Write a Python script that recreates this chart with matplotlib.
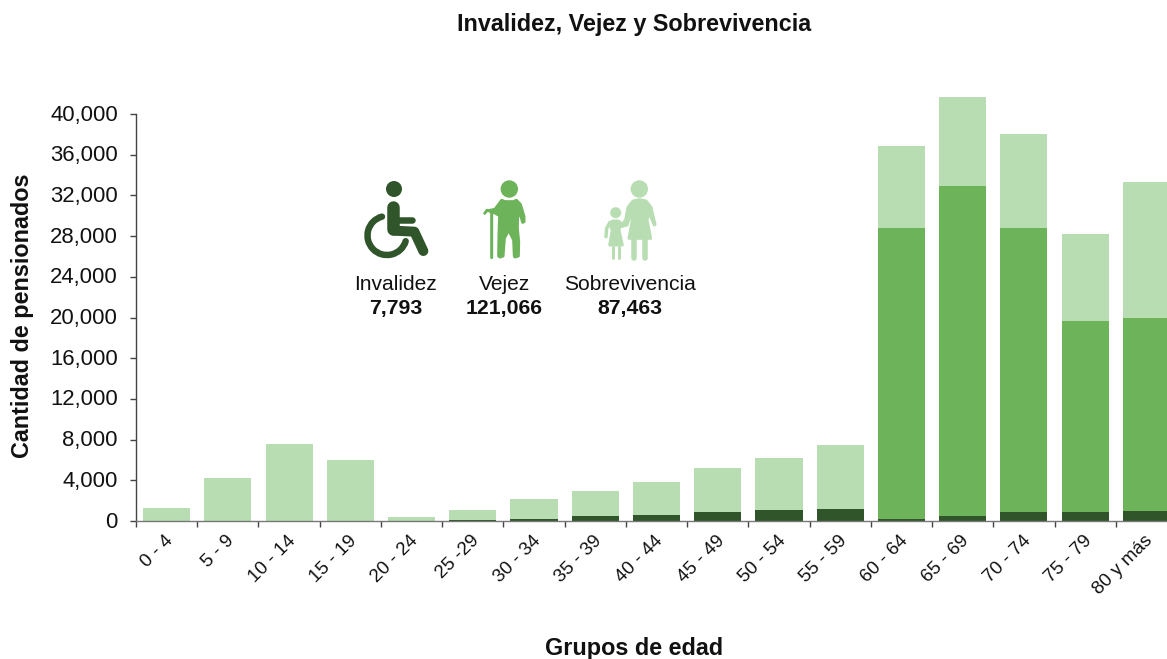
import numpy as np
import matplotlib
matplotlib.use('Agg')
import matplotlib.pyplot as plt
from matplotlib.path import Path
from matplotlib.patches import PathPatch, Circle, Polygon
from matplotlib.transforms import Affine2D, ScaledTranslation

plt.rcParams['font.family'] = ['Liberation Sans', 'DejaVu Sans']

W, H = 1167, 659
DARK = '#30552a'
MID = '#6db35a'
LIGHT = '#b9ddb3'

grupos = ['0 - 4', '5 - 9', '10 - 14', '15 - 19', '20 - 24', '25 -29', '30 - 34', '35 - 39', '40 - 44',
          '45 - 49', '50 - 54', '55 - 59', '60 - 64', '65 - 69', '70 - 74', '75 - 79', '80 y más']
invalidez = [0, 0, 0, 0, 0, 100, 200, 490, 590, 850, 1080, 1210, 200, 490, 850, 850, 980]
vejez = [0, 0, 0, 0, 0, 0, 0, 0, 0, 0, 0, 0, 28600, 32460, 27950, 18840, 19000]
sobrevivencia = [1250, 4225, 7600, 6000, 390, 1010, 1930, 2490, 3270, 4390, 5140, 6260, 8050, 8720, 9260, 8510, 13340]
y_ticks = [0, 4000, 8000, 12000, 16000, 20000, 24000, 28000, 32000, 36000, 40000]
totales = [('Invalidez', '7,793', 396), ('Vejez', '121,066', 504.5), ('Sobrevivencia', '87,463', 630)]

# everything for the icons is given in image pixels, origin top left
px = Affine2D().scale(1/W, -1/H).translate(0, 1)


def add_circle(fig, x, y, r, color):
    fig.add_artist(Circle((x, y), r, color=color, lw=0, transform=px + fig.transFigure))


def add_stroke(fig, pts, width, color, x0=0, y0=0, s=1):
    pts = [(x0 + p[0]/s, y0 + p[1]/s) for p in pts]
    fig.add_artist(PathPatch(Path(pts), fill=False, ec=color, lw=width*0.72, capstyle='round',
                             joinstyle='round', transform=px + fig.transFigure))


def add_shape(fig, pts, color, x0=0, y0=0, s=1, edge=3):
    pts = [(x0 + p[0]/s, y0 + p[1]/s) for p in pts]
    fig.add_artist(Polygon(pts, closed=True, fc=color, ec=color, lw=edge*0.72, joinstyle='round',
                           transform=px + fig.transFigure))


def wheelchair(fig):
    add_circle(fig, 394, 189, 8, DARK)
    x0, y0, s = 350, 175, 3
    add_stroke(fig, [(130, 97), (130, 162)], 12.5, DARK, x0, y0, s)
    add_stroke(fig, [(132, 167), (193, 170), (220, 228)], 10, DARK, x0, y0, s)
    add_stroke(fig, [(140, 134), (185, 134)], 6.5, DARK, x0, y0, s)
    a = Path.arc(105, 343)
    arc = Affine2D().scale(19.5).scale(1, -1).translate(387, 235.5).transform(a.vertices)
    fig.add_artist(PathPatch(Path(arc, a.codes), fill=False, ec=DARK, lw=6.5*0.72, capstyle='round',
                             transform=px + fig.transFigure))


def abuelo(fig):
    x0, y0, s = 475, 175, 3
    add_circle(fig, 509.3, 189, 8.7, MID)
    add_shape(fig, [(80, 76), (90, 80), (115, 80), (124, 76), (136, 88), (147, 125), (147, 140), (143, 142),
                    (139, 128), (128, 105), (127, 160), (131, 200), (130, 243), (120, 246), (118, 243),
                    (116, 195), (101, 165), (88, 190), (84, 243), (75, 246), (71, 243), (72, 180),
                    (74, 122), (60, 114), (45, 109), (45, 106), (60, 103)], MID, x0, y0, s)
    add_stroke(fig, [(50, 248), (50, 108), (36, 106), (29, 115)], 3, MID, x0, y0, s)


def madre_hija(fig):
    x0, y0, s = 595, 175, 3
    add_circle(fig, 639.3, 189, 8.7, LIGHT)
    add_shape(fig, [(114, 78), (133, 74), (153, 78), (168, 97), (180, 148), (178, 150), (162, 112), (156, 135),
                    (167, 190), (102, 190), (112, 135), (107, 118), (96, 150), (82, 154), (80, 150), (92, 135),
                    (99, 97)], LIGHT, x0, y0, s)
    add_stroke(fig, [(117, 196), (117, 248)], 5.5, LIGHT, x0, y0, s)
    add_stroke(fig, [(150, 196), (150, 248)], 5.5, LIGHT, x0, y0, s)
    add_circle(fig, 615.7, 212.7, 5.5, LIGHT)
    add_shape(fig, [(52, 138), (70, 138), (84, 150), (74, 155), (72, 165), (82, 210), (44, 210), (52, 165), (48, 158)],
              LIGHT, x0, y0, s)
    add_stroke(fig, [(45, 142), (35, 160), (33, 185)], 3.5, LIGHT, x0, y0, s)
    add_stroke(fig, [(54, 215), (54, 250)], 3, LIGHT, x0, y0, s)
    add_stroke(fig, [(71, 215), (71, 250)], 3, LIGHT, x0, y0, s)


def main():
    fig = plt.figure(figsize=(W/100, H/100), dpi=100)
    # axes runs past the right edge, last bar is cut off in the reference too
    ax = fig.add_axes([136/W, (H - 521)/H, 1041/W, 407/H])

    x = np.arange(len(grupos))
    inv = np.array(invalidez)
    vej = np.array(vejez)
    sob = np.array(sobrevivencia)
    ax.bar(x, sob, 0.77, bottom=inv + vej, color=LIGHT, clip_on=False, zorder=2)
    ax.bar(x, vej, 0.77, bottom=inv, color=MID, clip_on=False, zorder=2)
    ax.bar(x, inv, 0.77, color=DARK, clip_on=False, zorder=2)

    ax.set_xlim(-0.5, len(grupos) - 0.5)
    ax.set_ylim(0, 40000)
    ax.set_yticks(y_ticks)
    ax.set_yticklabels([f'{v:,}' for v in y_ticks], fontsize=15.9, color='#111111')
    ax.tick_params(axis='y', length=4.5, width=1, color='#444444', pad=8.5)
    up = ScaledTranslation(0, 1.5/100, fig.dpi_scale_trans)
    for lab in ax.get_yticklabels():
        lab.set_transform(lab.get_transform() + up)

    ax.set_xticks(x)
    ax.set_xticklabels(grupos, rotation=45, ha='right', rotation_mode='anchor', fontsize=13.5, color='#111111')
    ax.tick_params(axis='x', which='major', length=0, pad=8)
    ax.set_xticks(x - 0.5, minor=True)
    ax.tick_params(axis='x', which='minor', length=4.5, width=1, color='#444444')
    left = ScaledTranslation(-2/100, 0, fig.dpi_scale_trans)
    for lab in ax.get_xticklabels():
        lab.set_transform(lab.get_transform() + left)

    for side in ['top', 'right']:
        ax.spines[side].set_visible(False)
    ax.spines['left'].set_color('#444444')
    ax.spines['bottom'].set_color('#777777')
    ax.spines['bottom'].set_zorder(3)
    ax.spines['left'].set_linewidth(1)
    ax.spines['bottom'].set_linewidth(1)

    ax.set_ylabel('Cantidad de pensionados', fontsize=16.8, fontweight='bold', color='#111111', va='center')
    ax.yaxis.set_label_coords((23 - 136)/1041, (521 - 315.5)/407)
    ax.set_xlabel('Grupos de edad', fontsize=16.8, fontweight='bold', color='#111111')
    ax.xaxis.set_label_coords((634 - 136)/1041, (521 - 649)/407)
    ax.xaxis.label.set_verticalalignment('center')
    fig.suptitle('Invalidez, Vejez y Sobrevivencia', x=634.5/W, y=1 - 25/H, va='center',
                 fontsize=16.8, fontweight='bold', color='#111111')

    wheelchair(fig)
    abuelo(fig)
    madre_hija(fig)
    for nombre, total, cx in totales:
        fig.text(cx/W, 1 - 285/H, nombre, ha='center', va='center', fontsize=15.1, color='#111111')
        fig.text(cx/W, 1 - 309/H, total, ha='center', va='center', fontsize=15.3, fontweight='bold', color='#111111')

    fig.savefig('out.png', dpi=100)


if __name__ == '__main__':
    main()
